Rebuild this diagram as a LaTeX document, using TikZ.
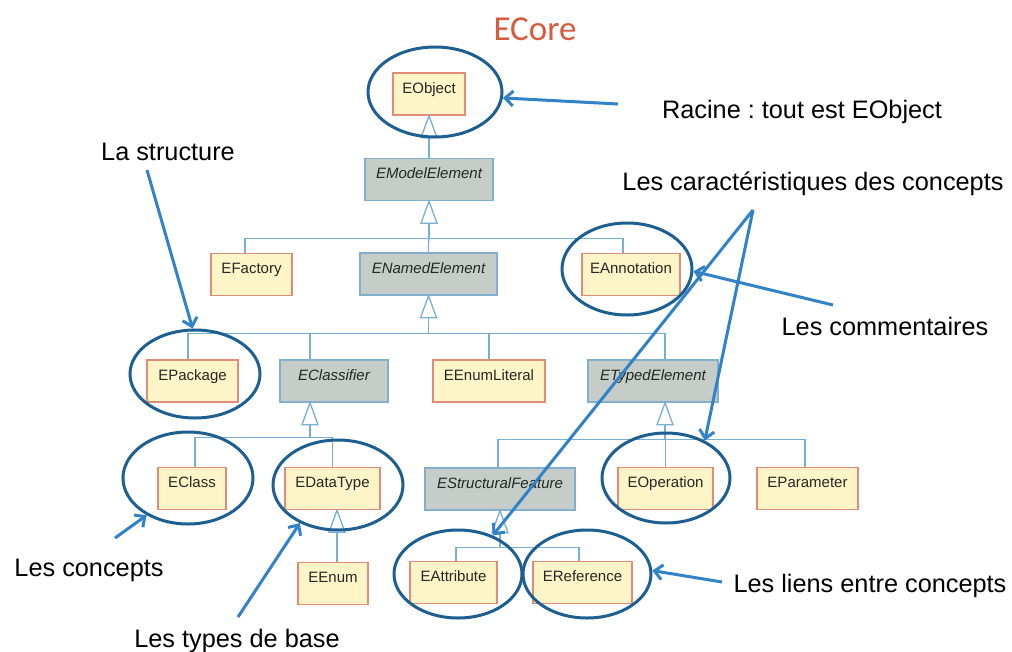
\documentclass[tikz,border=0pt]{standalone}
\usepackage{fontspec}
\setmainfont{Liberation Sans}
\newfontfamily\titlefont{Carlito}
\usetikzlibrary{shapes.geometric,arrows.meta,calc}
\frenchspacing
\definecolor{boxfill}{RGB}{253,244,200}
\definecolor{boxline}{RGB}{226,140,120}
\definecolor{absfill}{RGB}{198,205,200}
\definecolor{absline}{RGB}{130,175,205}
\definecolor{conncol}{RGB}{120,175,212}
\definecolor{ellcol}{RGB}{30,95,145}
\definecolor{arrcol}{RGB}{50,130,200}
\definecolor{titlecol}{RGB}{214,92,62}
\definecolor{boxtext}{RGB}{35,40,35}
\newcommand\bxf{\fontsize{15}{17}\selectfont}
\newcommand\anf{\fontsize{25.3}{29}\selectfont\frenchspacing}
\newcommand\gentri[1]{\draw[tri] (#1) -- ++(-8,22) -- ++(16,0) -- cycle;}
\begin{document}
\begin{tikzpicture}[x=1pt,y=-1pt,
  cbox/.style={draw=boxline, fill=boxfill, line width=1.5pt, inner xsep=0pt,
    inner ysep=4pt, text height=16pt, text depth=18pt, font=\bxf, text=boxtext, anchor=center},
  abox/.style={cbox, draw=absline, fill=absfill, font=\bxf\itshape},
  conn/.style={draw=conncol, line width=1.3pt},
  tri/.style={draw=conncol, fill=white, line width=1.3pt, line join=miter},
  ell/.style={draw=ellcol, line width=3pt, ellipse, inner sep=0pt},
  arr/.style={draw=arrcol, line width=3pt, -{Straight Barb[length=8pt,width=15pt]}},
  anntext/.style={font=\anf, text=black, anchor=base, inner sep=0pt},
]
\fill[white] (0,0) rectangle (1012,651);
\useasboundingbox (0,0) rectangle (1012,651);

% title
\node[font=\titlefont\fontsize{35}{40}\selectfont, text=titlecol, anchor=base, inner sep=0pt] (title) at (535,40) {ECore};

% class boxes
\node[cbox, minimum width=72] (eobject) at (429,94) {EObject};
\node[abox, minimum width=128] (emodel) at (429,179.5) {EModelElement};
\node[cbox, minimum width=81] (efactory) at (251.5,274.5) {EFactory};
\node[abox, minimum width=137] (enamed) at (428.5,274) {ENamedElement};
\node[cbox, minimum width=98] (eannot) at (631,274.5) {EAnnotation};
\node[cbox, minimum width=91] (epackage) at (192.5,381) {EPackage};
\node[abox, minimum width=108] (eclassifier) at (334,381) {EClassifier};
\node[cbox, minimum width=112] (eenumlit) at (489,381) {EEnumLiteral};
\node[abox, minimum width=130] (etyped) at (653,381) {ETypedElement};
\node[cbox, minimum width=68] (eclass) at (192,488.5) {EClass};
\node[cbox, minimum width=95] (edatatype) at (332.5,488.5) {EDataType};
\node[abox, minimum width=150] (estruct) at (500,489) {EStructuralFeature};
\node[cbox, minimum width=95] (eoperation) at (665.5,488.5) {EOperation};
\node[cbox, minimum width=101] (eparameter) at (807.5,488.5) {EParameter};
\node[cbox, minimum width=70] (eenum) at (333,583.5) {EEnum};
\node[cbox, minimum width=87] (eattribute) at (453.5,582.5) {EAttribute};
\node[cbox, minimum width=99] (ereference) at (582.5,582.5) {EReference};

% generalisation apexes and junctions
\coordinate (aObj) at (eobject.south);
\coordinate (aME) at (emodel.south);
\coordinate (aNE) at (enamed.south);
\coordinate (aCl) at ([xshift=-24]eclassifier.south);
\coordinate (aTE) at ([xshift=12]etyped.south);
\coordinate (aDT) at ([xshift=4.5]edatatype.south);
\coordinate (aSF) at (estruct.south);
\coordinate (jME) at ($(aME)+(0,37)$);
\coordinate (jNE) at ($(aNE)+(0,38)$);
\coordinate (jCl) at ($(aCl)+(0,35)$);
\coordinate (jTE) at ($(aTE)+(0,37)$);
\coordinate (jSF) at ($(aSF)+(0,37)$);

% connectors
\draw[conn] (emodel.north) -- (aObj);
\draw[conn] ([xshift=-6.5]efactory.north) |- (jME) -- (aME);
\draw[conn] (enamed.north) -- (aME);
\draw[conn] ([xshift=-8]eannot.north) |- (jME);
\draw[conn] ([xshift=-4.5]epackage.north) |- (jNE) -- (aNE);
\draw[conn] ([xshift=-24]eclassifier.north) |- (jNE);
\draw[conn] (eenumlit.north) |- (jNE);
\draw[conn] ([xshift=12]etyped.north) |- (jNE);
\draw[conn] ([xshift=3]eclass.north) |- (jCl) -- (aCl);
\draw[conn] (edatatype.north) |- (jCl);
\draw[conn] ([xshift=-2]estruct.north) |- (jTE) -- (aTE);
\draw[conn] (eoperation.north) |- (jTE);
\draw[conn] ([xshift=-2.5]eparameter.north) |- (jTE);
\draw[conn] ([xshift=4]eenum.north) -- (aDT);
\draw[conn] ([xshift=2.5]eattribute.north) |- (jSF) -- (aSF);
\draw[conn] ([xshift=-3.5]ereference.north) |- (jSF);

% triangles
\gentri{aObj}
\gentri{aME}
\gentri{aNE}
\gentri{aCl}
\gentri{aTE}
\gentri{aDT}
\gentri{aSF}

% ellipses
\node[ell, minimum width=134, minimum height=90] (ellObj) at (435,92) {};
\node[ell, minimum width=130, minimum height=92] (ellAnn) at (627,269) {};
\node[ell, minimum width=130, minimum height=88] (ellPkg) at (195,374) {};
\node[ell, minimum width=130, minimum height=92] (ellCls) at (188,478) {};
\node[ell, minimum width=130, minimum height=90] (ellDT) at (338,485) {};
\node[ell, minimum width=128, minimum height=90] (ellOp) at (666,478) {};
\node[ell, minimum width=128, minimum height=88] (ellAtt) at (458,574) {};
\node[ell, minimum width=128, minimum height=88] (ellRef) at (587,574) {};

% annotation texts
\node[anntext] (tRacine) at (802,118) {Racine : tout est EObject};
\node[anntext] (tStruct) at (168,160) {La structure};
\node[anntext] (tCarac) at (813,190) {Les caractéristiques des concepts};
\node[anntext] (tComm) at (885,335) {Les commentaires};
\node[anntext] (tConc) at (89,576) {Les concepts};
\node[anntext] (tTypes) at (237,647) {Les types de base};
\node[anntext] (tLiens) at (870,592) {Les liens entre concepts};

% arrow start points
\coordinate (sRacine) at (618,104);
\coordinate (sStruct) at (147,170);
\coordinate (sCarac) at (753,210);
\coordinate (sComm) at (833,305);
\coordinate (sConc) at (115,538);
\coordinate (sTypes) at (238,617);
\coordinate (sLiens) at (722,582);

% arrows
\draw[arr] (sRacine) -- (ellObj.-5);
\draw[arr] (sStruct) -- (ellPkg.93);
\draw[arr] (sCarac) -- (ellOp.44);
\draw[arr] (sCarac) -- (ellAtt.48);
\draw[arr] (sComm) -- (ellAnn.-2);
\draw[arr] (sConc) -- (ellCls.222);
\draw[arr] (sTypes) -- (ellDT.225);
\draw[arr] (sLiens) -- (ellRef.3);
\end{tikzpicture}
\end{document}
